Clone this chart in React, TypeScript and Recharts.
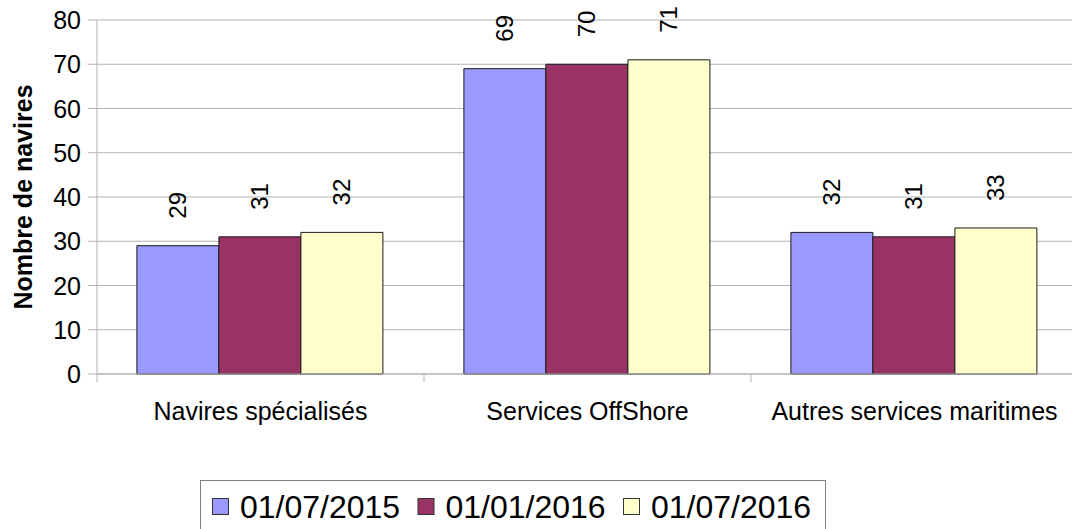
import React from 'react';
import { BarChart, Bar, XAxis, YAxis, CartesianGrid, Legend, LabelList, Label } from 'recharts';

const categories = ['Navires spécialisés', 'Services OffShore', 'Autres services maritimes'];
const seriesNames = ['01/07/2015', '01/01/2016', '01/07/2016'];
const values20150701 = [29, 69, 32];
const values20160101 = [31, 70, 31];
const values20160701 = [32, 71, 33];
const seriesColors = ['#9999ff', '#993366', '#ffffcc'];
const yTicks = [0, 10, 20, 30, 40, 50, 60, 70, 80];
const yTitle = 'Nombre de navires';

const seriesKeys = ['s0', 's1', 's2'];
const seriesValues = [values20150701, values20160101, values20160701];
const data = categories.map((name, i) => ({
  name,
  s0: seriesValues[0][i],
  s1: seriesValues[1][i],
  s2: seriesValues[2][i],
}));

const FONT = '"Liberation Sans", Arial, sans-serif';
const CHART_W = 1078;
const CHART_H = 529;
const Y_AXIS_W = 97;
const HALF_BAND = (CHART_W - Y_AXIS_W) / categories.length / 2;

const CatTick = (props: any) => {
  const { x, y, payload } = props;
  return (
    <g>
      <line x1={x - HALF_BAND} x2={x - HALF_BAND} y1={y} y2={y + 8} stroke="#b3b3b3" />
      <text x={x} y={y + 46} textAnchor="middle" fontSize={25} fontFamily={FONT} fill="#000">
        {payload.value}
      </text>
    </g>
  );
};

const YTick = (props: any) => {
  const { x, y, payload } = props;
  return (
    <text x={x} y={y} dy="0.36em" textAnchor="end" fontSize={25} fontFamily={FONT} fill="#000">
      {payload.value}
    </text>
  );
};

const TitleLabel = (props: any) => {
  const vb = props.viewBox || { x: 0, y: 20, width: 97, height: 354 };
  const cx = vb.x + 23;
  const cy = vb.y + vb.height / 2;
  return (
    <text
      x={cx}
      y={cy}
      transform={`rotate(-90 ${cx} ${cy})`}
      textAnchor="middle"
      dominantBaseline="central"
      fontSize={25}
      fontWeight="bold"
      fontFamily={FONT}
      fill="#000"
    >
      {yTitle}
    </text>
  );
};

const ValueLabel = (props: any) => {
  const { x, y, width, value } = props;
  const cx = Number(x) + Number(width) / 2;
  const cy = Number(y) - 27;
  return (
    <text
      x={cx}
      y={cy}
      transform={`rotate(-90 ${cx} ${cy})`}
      textAnchor="start"
      dominantBaseline="central"
      fontSize={24}
      fontFamily={FONT}
      fill="#000"
    >
      {value}
    </text>
  );
};

const renderLegend = () => {
  return (
    <svg width={626} height={60} style={{ display: 'block' }}>
      <rect x={0.5} y={0.5} width={625} height={80} fill="#fff" stroke="#808080" />
      {seriesNames.map((name, i) => (
        <g key={name}>
          <rect x={12.5 + i * 205.5} y={18.5} width={16} height={16} fill={seriesColors[i]} stroke="#333" />
          <text x={40 + i * 205.5} y={38} fontSize={32} fontFamily={FONT} fill="#000">
            {name}
          </text>
        </g>
      ))}
    </svg>
  );
};

export default function App() {
  return (
    <div
      style={{
        position: 'absolute',
        left: 0,
        top: 0,
        width: 1072,
        height: 529,
        overflow: 'hidden',
        background: '#fff',
        fontFamily: FONT,
      }}
    >
      <BarChart
        width={CHART_W}
        height={CHART_H}
        data={data}
        margin={{ top: 20, right: 0, bottom: 0, left: 0 }}
        barCategoryGap="12.2%"
        barGap={0}
      >
        <CartesianGrid vertical={false} stroke="#b3b3b3" />
        <XAxis
          dataKey="name"
          height={155}
          tickLine={false}
          tickSize={0}
          tickMargin={0}
          axisLine={{ stroke: '#b3b3b3' }}
          tick={<CatTick />}
          interval={0}
        />
        <YAxis
          width={Y_AXIS_W}
          domain={[0, 80]}
          ticks={yTicks}
          interval={0}
          tickSize={9}
          tickMargin={7}
          tickLine={{ stroke: '#b3b3b3' }}
          axisLine={{ stroke: '#b3b3b3' }}
          tick={<YTick />}
        >
          <Label content={<TitleLabel />} />
        </YAxis>
        <Legend
          verticalAlign="middle"
          align="center"
          layout="horizontal"
          content={renderLegend}
          wrapperStyle={{ left: 200, top: 480, width: 626, height: 60 }}
        />
        {seriesKeys.map((k, i) => (
          <Bar
            key={k}
            dataKey={k}
            name={seriesNames[i]}
            fill={seriesColors[i]}
            stroke="#1a1a1a"
            strokeWidth={1}
            isAnimationActive={false}
          >
            <LabelList dataKey={k} content={<ValueLabel />} />
          </Bar>
        ))}
      </BarChart>
    </div>
  );
}
